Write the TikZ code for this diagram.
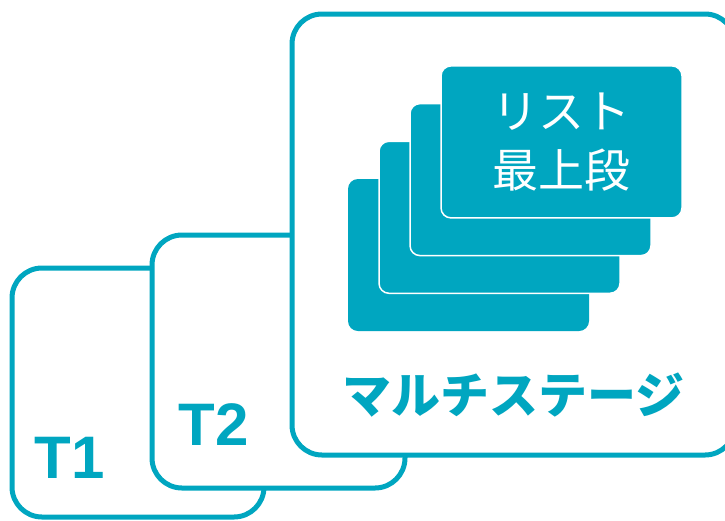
\documentclass[tikz,border=0pt]{standalone}
\usepackage{fontspec}
\setmainfont{Liberation Sans}
\newfontfamily\jpfont{Noto Sans CJK JP}
\usetikzlibrary{calc}
\definecolor{cteal}{HTML}{00A6C0}
\tikzset{
  every picture/.style={x=1pt, y=-1pt, line width=5pt},
  frame/.style={draw=cteal, fill=white, rounded corners=30pt, inner sep=0pt},
  sheet/.style={fill=cteal, draw=white, line width=1.5pt, rounded corners=10pt, inner sep=0pt,
    minimum width=241pt, minimum height=152pt},
  tag/.style={text=cteal, anchor=base, inner sep=0pt, font=\bfseries\fontsize{60}{60}\selectfont},
}
\begin{document}
\begin{tikzpicture}
  \useasboundingbox (0,0) rectangle (725,520);
  \clip (0,0) rectangle (725,520);
  % the three frames, back to front
  \node[frame, minimum width=252pt, minimum height=249pt] (t1) at (138,392.5) {};
  \node[frame, minimum width=253pt, minimum height=253pt] (t2) at (278.5,361.5) {};
  \node[frame, minimum width=443pt, minimum height=441pt] (multi) at (513.5,234.5) {};
  % stack of sheets
  \node[sheet, draw=none] (s4) at (468.5,255) {};
  \node[sheet] (s3) at ($(s4)+(31,-37.7)$) {};
  \node[sheet] (s2) at ($(s3)+(31,-37.7)$) {};
  \node[sheet, align=center, text=white, font=\jpfont\fontsize{46}{59}\selectfont] (s1) at ($(s2)+(31,-37.7)$) {リスト\\最上段};
  % labels
  \node[tag] (l1) at (69.5,478) {T1};
  \node[tag] (l2) at (214,445) {T2};
  \node[tag, font=\jpfont\bfseries\fontsize{49}{49}\selectfont] (lm) at (513.5,413) {マルチステージ};
\end{tikzpicture}
\end{document}
